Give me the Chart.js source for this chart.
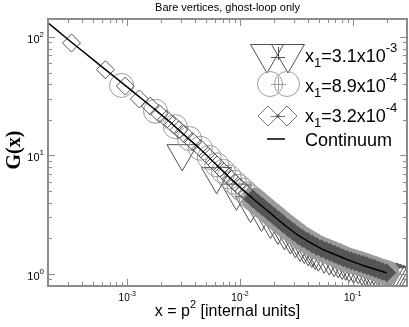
<!DOCTYPE html>
<html>
<head>
<meta charset="utf-8">
<script src="https://cdn.jsdelivr.net/npm/chart.js"></script>
<style>
  html, body { margin: 0; padding: 0; background: #fff; }
  #wrap { width: 409px; height: 327px; }
</style>
</head>
<body>
<div id="wrap"><canvas id="ghost-chart" width="409" height="327"></canvas></div>
<script>
// Data
var contX = [1.98e-4, 3.1e-4, 5.7e-4, 1.06e-3, 1.6e-3, 2.4e-3, 3.1e-3, 4.4e-3, 6.6e-3, 9.0e-3, 0.013, 0.0185, 0.026, 0.034, 0.051, 0.067, 0.10, 0.134, 0.20];
var contY = [132, 92.6, 58, 36.2, 26.3, 19.1, 15.3, 11.4, 7.85, 5.9, 4.33, 3.27, 2.50, 2.07, 1.66, 1.48, 1.27, 1.15, 1.02];

// x1 = 3.1e-3 (triangles)
var triX = [3.07e-3, 6.2e-3, 9.3e-3, 0.0124, 0.0155, 0.0186, 0.0217, 0.0248, 0.0279, 0.031, 0.0341, 0.0372, 0.0403, 0.0434, 0.0465, 0.0496, 0.0558, 0.062, 0.0682, 0.0744, 0.0806, 0.0868, 0.093, 0.102, 0.112, 0.121, 0.130, 0.140, 0.149, 0.161, 0.174, 0.186, 0.198, 0.211, 0.223, 0.236, 0.248];
var triY = [10.4, 6.67, 4.83, 3.80, 3.21, 2.79, 2.49, 2.24, 2.07, 1.92, 1.79, 1.72, 1.64, 1.59, 1.53, 1.48, 1.42, 1.37, 1.33, 1.30, 1.26, 1.24, 1.20, 1.17, 1.16, 1.13, 1.12, 1.10, 1.08, 1.06, 1.04, 1.03, 1.01, 0.99, 0.97, 0.96, 0.95];

// x1 = 8.9e-4 (circles)
var cirX = [8.9e-4, 1.78e-3, 2.67e-3, 3.56e-3, 4.45e-3, 5.34e-3, 6.23e-3, 7.12e-3, 8.0e-3, 8.9e-3, 9.8e-3, 0.0107, 0.0116, 0.0125, 0.0134, 0.0143, 0.0156, 0.017, 0.019, 0.021, 0.023, 0.0255, 0.0285, 0.0315, 0.0345, 0.038, 0.042, 0.046, 0.0505, 0.0555, 0.0605, 0.066, 0.072, 0.0785, 0.0855, 0.093, 0.101, 0.110, 0.119, 0.129, 0.140, 0.151, 0.163, 0.177, 0.190, 0.202];
var cirY = [39, 23.6, 17.5, 13.9, 11.5, 9.64, 8.34, 7.34, 6.58, 5.94, 5.47, 5.08, 4.73, 4.44, 4.21, 4.00, 3.73, 3.49, 3.20, 2.96, 2.75, 2.54, 2.35, 2.18, 2.04, 1.93, 1.82, 1.73, 1.65, 1.59, 1.54, 1.49, 1.44, 1.39, 1.34, 1.30, 1.27, 1.24, 1.21, 1.18, 1.15, 1.12, 1.09, 1.06, 1.04, 1.02];

// x1 = 3.2e-4 (diamonds)
var diaX = [3.2e-4, 6.4e-4, 9.6e-4, 1.28e-3, 1.6e-3, 1.92e-3, 2.24e-3, 2.56e-3, 2.88e-3, 3.2e-3, 3.8e-3, 4.5e-3, 5.2e-3, 6.0e-3, 7.0e-3, 8.0e-3, 9.0e-3, 0.010, 0.0115, 0.013, 0.0145, 0.016, 0.018, 0.020, 0.022, 0.024, 0.027, 0.030, 0.033, 0.036, 0.040, 0.044, 0.048, 0.053, 0.058, 0.063, 0.069, 0.075, 0.082, 0.089, 0.097, 0.105, 0.114, 0.124, 0.134, 0.145, 0.157, 0.170, 0.184, 0.200];
var diaY = [89, 53, 38.5, 30, 26.1, 22.6, 20.2, 18.2, 16.5, 15.2, 13.1, 11.4, 9.9, 8.65, 7.46, 6.58, 5.89, 5.38, 4.78, 4.31, 3.95, 3.66, 3.33, 3.07, 2.85, 2.66, 2.43, 2.25, 2.10, 1.99, 1.88, 1.78, 1.70, 1.63, 1.57, 1.52, 1.47, 1.42, 1.37, 1.33, 1.29, 1.26, 1.23, 1.20, 1.17, 1.14, 1.11, 1.08, 1.05, 1.02];

var xTicks = [1e-3, 1e-2, 1e-1];
var xTickExp = ["-3", "-2", "-1"];
var yTicks = [1, 10, 100];
var yTickExp = ["0", "1", "2"];

var legendMain = ["x", "x", "x", "Continuum"];
var legendSub = ["1", "1", "1", ""];
var legendMid = ["=3.1x10", "=8.9x10", "=3.2x10", ""];
var legendSup = ["-3", "-4", "-4", ""];
// End data

function pts(xs, ys) {
  return xs.map(function (v, i) { return { x: v, y: ys[i] }; });
}

var SANS = '"Liberation Sans", Arial, sans-serif';
var TRI = "#505050", CIR = "#9c9c9c", DIA = "#555555";

// markers are hollow where sparse; in the dense band the outlines merge to solid
function fillDense(col) {
  return function (c) {
    return c.raw && c.raw.x >= 0.013 ? col : "rgba(0,0,0,0)";
  };
}

function supText(ctx, base, sup, x, y, size, supSize, align) {
  ctx.font = size + "px " + SANS;
  var w1 = ctx.measureText(base).width;
  ctx.font = supSize + "px " + SANS;
  var w2 = ctx.measureText(sup).width;
  var start = align === "right" ? x - w1 - w2 : x - (w1 + w2) / 2;
  ctx.textAlign = "left";
  ctx.font = size + "px " + SANS;
  ctx.fillText(base, start, y);
  ctx.font = supSize + "px " + SANS;
  ctx.fillText(sup, start + w1, y - size * 0.55);
}

function logVals(min, max) {
  var out = [];
  for (var e = -5; e <= 3; e++) {
    for (var m = 1; m <= 9; m++) {
      var v = m * Math.pow(10, e);
      if (v >= min && v <= max) out.push({ v: v, major: m === 1 });
    }
  }
  return out;
}

var axesPlugin = {
  id: "axesPlugin",
  afterDatasetsDraw: function (chart) {
    var ctx = chart.ctx, a = chart.chartArea;
    var sx = chart.scales.x, sy = chart.scales.y;
    ctx.save();
    ctx.strokeStyle = "#8c8c8c";
    ctx.lineWidth = 1;
    ctx.beginPath();
    logVals(sx.min, sx.max).forEach(function (t) {
      var p = Math.round(sx.getPixelForValue(t.v)) + 0.5;
      var len = t.major ? 7 : 4;
      ctx.moveTo(p, a.bottom); ctx.lineTo(p, a.bottom - len);
      ctx.moveTo(p, a.top); ctx.lineTo(p, a.top + len);
    });
    logVals(sy.min, sy.max).forEach(function (t) {
      var p = Math.round(sy.getPixelForValue(t.v)) + 0.5;
      var len = t.major ? 7 : 4;
      ctx.moveTo(a.left, p); ctx.lineTo(a.left + len, p);
      ctx.moveTo(a.right, p); ctx.lineTo(a.right - len, p);
    });
    ctx.stroke();
    ctx.lineWidth = 2;
    ctx.strokeRect(a.left, a.top, a.right - a.left, a.bottom - a.top);

    // tick labels
    ctx.fillStyle = "#000";
    ctx.textBaseline = "alphabetic";
    xTicks.forEach(function (v, i) {
      supText(ctx, "10", xTickExp[i], sx.getPixelForValue(v), a.bottom + 15, 10, 7, "center");
    });
    yTicks.forEach(function (v, i) {
      supText(ctx, "10", yTickExp[i], a.left - 4, sy.getPixelForValue(v) + 6, 11, 8, "right");
    });

    // title and axis titles
    ctx.textAlign = "center";
    ctx.font = "11px " + SANS;
    ctx.fillText("Bare vertices, ghost-loop only", (a.left + a.right) / 2, 11);

    ctx.font = "16px " + SANS;
    var t1 = "x = p", t2 = "2", t3 = " [internal units]";
    var w1 = ctx.measureText(t1).width, w3 = ctx.measureText(t3).width;
    ctx.font = "11px " + SANS;
    var w2 = ctx.measureText(t2).width;
    var sx0 = (a.left + a.right) / 2 - (w1 + w2 + w3) / 2;
    ctx.textAlign = "left";
    ctx.font = "16px " + SANS;
    ctx.fillText(t1, sx0, 316);
    ctx.fillText(t3, sx0 + w1 + w2, 316);
    ctx.font = "11px " + SANS;
    ctx.fillText(t2, sx0 + w1, 308);

    ctx.save();
    ctx.translate(15, 150);
    ctx.rotate(-Math.PI / 2);
    ctx.textAlign = "center";
    ctx.textBaseline = "middle";
    ctx.font = 'bold 20px "Liberation Serif", "Times New Roman", serif';
    ctx.fillText("G(x)", 0, 0);
    ctx.restore();

    // legend
    var rows = [54, 84, 116, 139];
    var base = [62, 92, 122, 146];
    ctx.lineWidth = 1;
    // triangles
    ctx.strokeStyle = TRI;
    [267, 288].forEach(function (cx) {
      var r = 19, cy = rows[0];
      ctx.beginPath();
      ctx.moveTo(cx, cy + r);
      ctx.lineTo(cx + r * Math.sin(2 * Math.PI / 3), cy - r / 2);
      ctx.lineTo(cx - r * Math.sin(2 * Math.PI / 3), cy - r / 2);
      ctx.closePath();
      ctx.stroke();
    });
    ctx.beginPath();
    ctx.moveTo(271, rows[0] + 3.5); ctx.lineTo(285, rows[0] + 3.5);
    ctx.moveTo(278.5, rows[0] - 7); ctx.lineTo(278.5, rows[0] + 6);
    ctx.stroke();
    // circles
    ctx.strokeStyle = CIR;
    [270, 287].forEach(function (cx) {
      ctx.beginPath();
      ctx.arc(cx, rows[1], 12.5, 0, Math.PI * 2);
      ctx.stroke();
    });
    ctx.beginPath();
    ctx.moveTo(271, rows[1] + 0.5); ctx.lineTo(286, rows[1] + 0.5);
    ctx.moveTo(278.5, rows[1] - 7); ctx.lineTo(278.5, rows[1] + 7);
    ctx.stroke();
    // diamonds
    ctx.strokeStyle = "#777";
    [268, 287].forEach(function (cx) {
      var r = 10, cy = rows[2];
      ctx.beginPath();
      ctx.moveTo(cx - r, cy); ctx.lineTo(cx, cy - r);
      ctx.lineTo(cx + r, cy); ctx.lineTo(cx, cy + r);
      ctx.closePath();
      ctx.stroke();
    });
    ctx.beginPath();
    ctx.moveTo(271, rows[2] + 0.5); ctx.lineTo(285, rows[2] + 0.5);
    ctx.stroke();
    ctx.fillStyle = "#555";
    ctx.fillRect(276.5, rows[2] - 1.5, 3, 3);
    // continuum line
    ctx.strokeStyle = "#000";
    ctx.lineWidth = 1.5;
    ctx.beginPath();
    ctx.moveTo(267, rows[3]); ctx.lineTo(285, rows[3]);
    ctx.stroke();

    // legend text
    ctx.fillStyle = "#000";
    ctx.textAlign = "left";
    for (var i = 0; i < 4; i++) {
      var tx = 305;
      ctx.font = "18px " + SANS;
      ctx.fillText(legendMain[i], tx, base[i]);
      tx += ctx.measureText(legendMain[i]).width;
      if (legendSub[i]) {
        ctx.font = "13px " + SANS;
        ctx.fillText(legendSub[i], tx, base[i] + 5);
        tx += ctx.measureText(legendSub[i]).width;
        ctx.font = "18px " + SANS;
        ctx.fillText(legendMid[i], tx, base[i]);
        tx += ctx.measureText(legendMid[i]).width;
        ctx.font = "13px " + SANS;
        ctx.fillText(legendSup[i], tx, base[i] - 10);
      }
    }
    ctx.restore();
  }
};

var ctx = document.getElementById("ghost-chart").getContext("2d");
var myChart = new Chart(ctx, {
  type: "scatter",
  data: {
    datasets: [
      {
        label: "Continuum",
        data: pts(contX, contY),
        showLine: true,
        borderColor: "#000",
        borderWidth: 1.5,
        pointRadius: 0,
        cubicInterpolationMode: "monotone",
        order: 1
      },
      {
        label: "x1=3.2x10^-4",
        data: pts(diaX, diaY),
        pointStyle: "rectRot",
        pointRadius: 9,
        pointBorderWidth: 1,
        pointBorderColor: DIA,
        pointBackgroundColor: fillDense(DIA),
        clip: 0,
        order: 2
      },
      {
        label: "x1=8.9x10^-4",
        data: pts(cirX, cirY),
        pointStyle: "circle",
        pointRadius: 12,
        pointBorderWidth: 1,
        pointBorderColor: CIR,
        pointBackgroundColor: fillDense(CIR),
        clip: 0,
        order: 3
      },
      {
        label: "x1=3.1x10^-3",
        data: pts(triX, triY),
        pointStyle: "triangle",
        pointRotation: 180,
        pointRadius: 17.5,
        pointBorderWidth: 1,
        pointBorderColor: TRI,
        pointBackgroundColor: "rgba(0,0,0,0)",
        clip: 0,
        order: 4
      }
    ]
  },
  options: {
    responsive: false,
    animation: false,
    devicePixelRatio: 1,
    events: [],
    layout: { autoPadding: false, padding: { left: 48, right: 2, top: 19, bottom: 41 } },
    plugins: { legend: { display: false }, tooltip: { enabled: false }, title: { display: false } },
    scales: {
      x: { type: "logarithmic", display: false, min: 1.98e-4, max: 0.303, bounds: "data" },
      y: { type: "logarithmic", display: false, min: 0.79, max: 142, bounds: "data" }
    }
  },
  plugins: [axesPlugin]
});
</script>
</body>
</html>
